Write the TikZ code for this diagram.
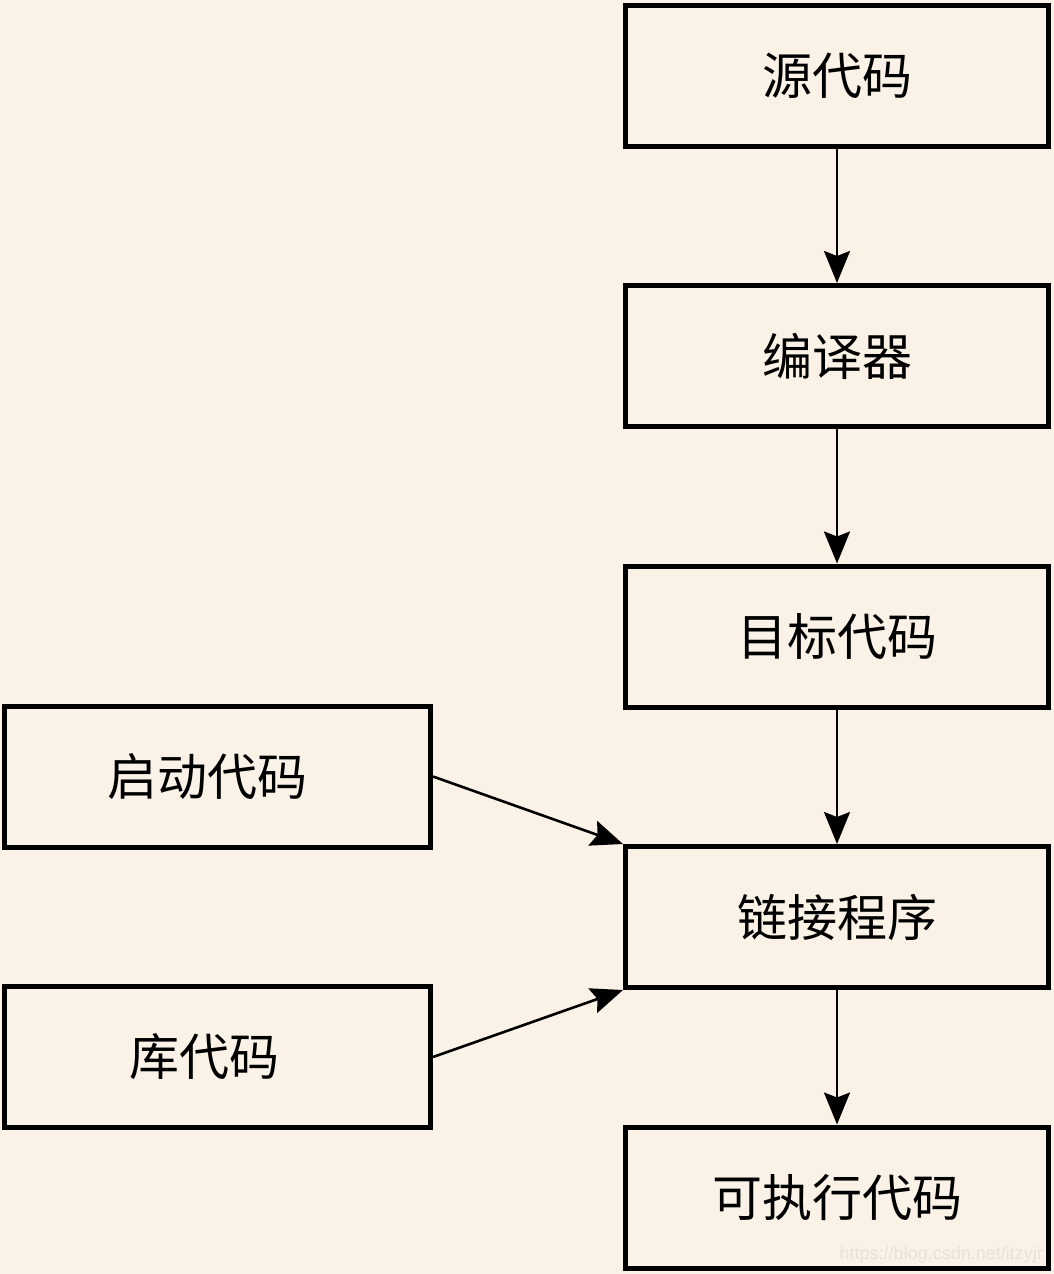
\documentclass[tikz,border=0pt]{standalone}
\usepackage{fontspec}
\newfontfamily\cjk{Noto Sans CJK SC}
\newfontfamily\wmfont{Liberation Sans}
\usetikzlibrary{arrows.meta}
\definecolor{bg}{RGB}{250,242,230}
\definecolor{wm}{RGB}{230,226,220}
\begin{document}
\begin{tikzpicture}[x=1pt,y=-1pt,
  box/.style={draw=black,line width=5pt,minimum width=423pt,minimum height=141pt,inner sep=0pt,font=\cjk\fontsize{50}{60}\selectfont},
  lbox/.style={box,minimum width=426pt},
  conn/.style={line width=2.6pt,-{Stealth[length=32pt,width=26pt,inset=5pt]}}]
\fill[bg] (0,0) rectangle (1054,1274);
\useasboundingbox (0,0) rectangle (1054,1274);
\node[box] (src) at (837,75.5) {源代码};
\node[box] (cmp) at (837,356) {编译器};
\node[box] (obj) at (837,636.5) {目标代码};
\node[box] (lnk) at (837,917) {链接程序};
\node[box] (exe) at (837,1197.5) {可执行代码};
\node[lbox] (start) at (217.5,776.5) {启动代码\hspace*{20pt}};
\node[lbox] (lib) at (217.5,1057) {库代码\hspace*{26pt}};
\draw[conn] (src.south) -- (cmp.north);
\draw[conn] (cmp.south) -- (obj.north);
\draw[conn] (obj.south) -- (lnk.north);
\draw[conn] (lnk.south) -- (exe.north);
\draw[conn] (start.east) -- (lnk.north west);
\draw[conn] (lib.east) -- (lnk.south west);
\node[anchor=east,text=wm,font=\wmfont\fontsize{18}{20}\selectfont,inner sep=0pt] (wmk) at (1043,1255) {https://blog.csdn.net/itzyjr};
\end{tikzpicture}
\end{document}
